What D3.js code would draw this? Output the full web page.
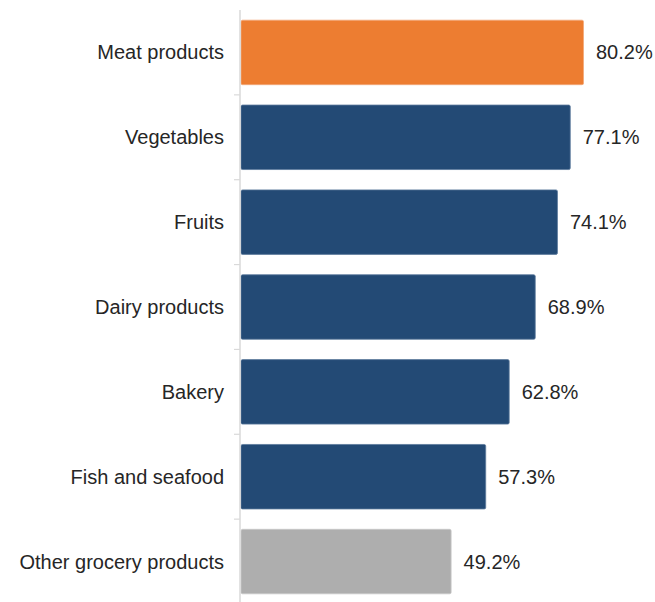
<!DOCTYPE html>
<html>
<head>
<meta charset="utf-8">
<script src="https://cdn.jsdelivr.net/npm/d3@7"></script>
<style>
  html, body { margin: 0; padding: 0; background: #fff; }
  svg { display: block; }
  text { font-family: "Liberation Sans", Arial, sans-serif; }
</style>
</head>
<body>
<svg id="chart" width="655" height="602"></svg>
<script>
// Share of respondents by product category
const categories = [
  "Meat products",
  "Vegetables",
  "Fruits",
  "Dairy products",
  "Bakery",
  "Fish and seafood",
  "Other grocery products"
];
const values = [80.2, 77.1, 74.1, 68.9, 62.8, 57.3, 49.2];
const valueLabels = ["80.2%", "77.1%", "74.1%", "68.9%", "62.8%", "57.3%", "49.2%"];
const highlight = ["Meat products"];
const muted = ["Other grocery products"];

const svg = d3.select("#chart");

const axisX = 240;
const x = d3.scaleLinear().domain([0, 80.2]).range([axisX + 1, 583.5]);
const y = d3.scaleBand()
  .domain(categories)
  .range([10, 604])
  .paddingInner(0.24)
  .paddingOuter(0.12);

const colorOf = d => highlight.includes(d) ? "#ED7D31"
  : muted.includes(d) ? "#AEAEAE" : "#234A75";
const strokeOf = d => highlight.includes(d) ? "#F3A878"
  : muted.includes(d) ? "#C8C8C8" : "#5C7A9C";

const rows = categories.map((c, i) => ({ c, v: values[i], label: valueLabels[i] }));

// Bars
svg.append("g").selectAll("rect")
  .data(rows)
  .join("rect")
  .attr("x", x(0))
  .attr("y", d => y(d.c))
  .attr("width", d => x(d.v) - x(0))
  .attr("height", y.bandwidth())
  .attr("rx", 1.5)
  .attr("fill", d => colorOf(d.c))
  .attr("stroke", d => strokeOf(d.c))
  .attr("stroke-width", 0.8);

// Category axis with ticks between bands
const step = y.step();
const bounds = categories.slice(1).map(c => y(c) - step * y.paddingInner() / 2);
const axisG = svg.append("g").attr("class", "y-axis");
axisG.append("line")
  .attr("x1", axisX).attr("x2", axisX)
  .attr("y1", 10).attr("y2", 604)
  .attr("stroke", "#D9D9D9").attr("stroke-width", 1.5);
axisG.selectAll("line.tick")
  .data(bounds)
  .join("line")
  .attr("class", "tick")
  .attr("x1", axisX - 6).attr("x2", axisX)
  .attr("y1", d => d).attr("y2", d => d)
  .attr("stroke", "#D9D9D9").attr("stroke-width", 1.2);

// Category labels
svg.append("g").selectAll("text")
  .data(rows)
  .join("text")
  .attr("x", 224)
  .attr("y", d => y(d.c) + y.bandwidth() / 2)
  .attr("dy", "0.35em")
  .attr("text-anchor", "end")
  .attr("font-size", 20)
  .attr("fill", "#262626")
  .text(d => d.c);

// Value labels
svg.append("g").selectAll("text")
  .data(rows)
  .join("text")
  .attr("x", d => x(d.v) + 12.5)
  .attr("y", d => y(d.c) + y.bandwidth() / 2)
  .attr("dy", "0.35em")
  .attr("font-size", 20)
  .attr("fill", "#262626")
  .text(d => d.label);
</script>
</body>
</html>
